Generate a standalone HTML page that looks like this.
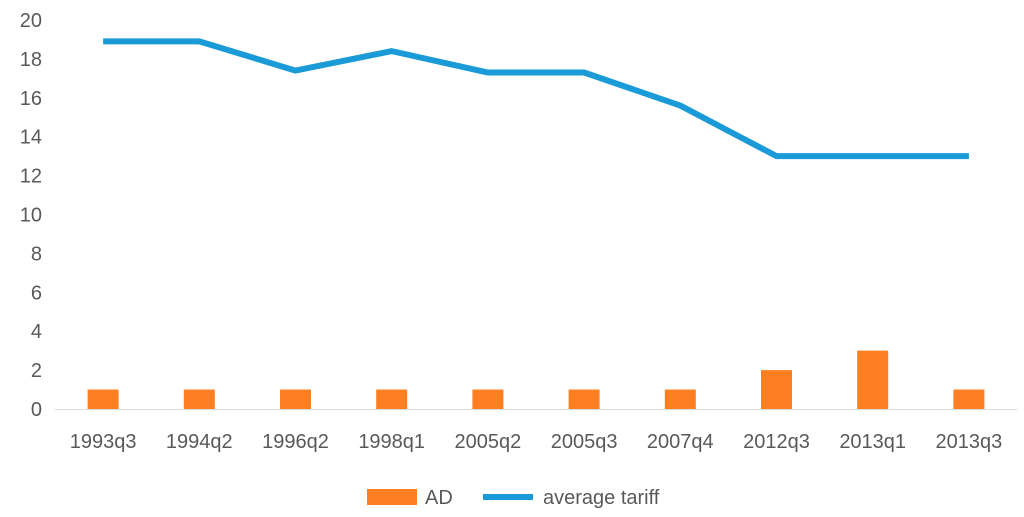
<!DOCTYPE html>
<html>
<head>
<meta charset="utf-8">
<style>
  html,body{margin:0;padding:0;background:#fff;}
  svg{display:block;font-family:"Liberation Sans",sans-serif;}
  text{fill:#595959;font-size:20px;}
</style>
</head>
<body>
<svg id="chart" width="1024" height="517">
  <g id="yticks"></g>
  <g id="xticks"></g>
  <line x1="55" y1="409.5" x2="1017" y2="409.5" stroke="#d9d9d9" stroke-width="1"/>
  <g id="bars"></g>
  <g id="lines"></g>
  <g>
    <rect x="367" y="489" width="50" height="16" fill="#fd7f22"/>
    <text x="425" y="504">AD</text>
    <line x1="483" y1="497" x2="533" y2="497" stroke="#1a9bd7" stroke-width="6"/>
    <text x="543" y="504">average tariff</text>
  </g>
</svg>
<script>
const categories = ["1993q3","1994q2","1996q2","1998q1","2005q2","2005q3","2007q4","2012q3","2013q1","2013q3"];
const adValues = [1,1,1,1,1,1,1,2,3,1];
const tariffValues = [18.9,18.9,17.4,18.4,17.3,17.3,15.6,13,13,13];
const yTicks = [0,2,4,6,8,10,12,14,16,18,20];

const NS = "http://www.w3.org/2000/svg";
const left = 55, right = 1017, y0 = 409, yTop = 20, yMax = 20;
const step = (right - left) / categories.length;
function xScale(i){ return left + step * (i + 0.5); }
function yScale(v){ return y0 - (y0 - yTop) * v / yMax; }

const yg = document.getElementById('yticks');
yTicks.forEach(t => {
  const el = document.createElementNS(NS,'text');
  el.setAttribute('x', 42);
  el.setAttribute('y', yScale(t) + 7);
  el.setAttribute('text-anchor','end');
  el.textContent = t;
  
  
  yg.appendChild(el);
});

const xg = document.getElementById('xticks');
categories.forEach((c,i) => {
  const el = document.createElementNS(NS,'text');
  el.setAttribute('x', xScale(i));
  el.setAttribute('y', 448);
  el.setAttribute('text-anchor','middle');
  el.textContent = c;
  
  
  xg.appendChild(el);
});

const bg = document.getElementById('bars');
adValues.forEach((v,i) => {
  const r = document.createElementNS(NS,'rect');
  const bw = 31;
  r.setAttribute('x', xScale(i) - bw/2);
  r.setAttribute('y', yScale(v));
  r.setAttribute('width', bw);
  r.setAttribute('height', y0 - yScale(v));
  r.setAttribute('fill', '#fd7f22');
  
  
  bg.appendChild(r);
});

const lg = document.getElementById('lines');
const pl = document.createElementNS(NS,'polyline');
pl.setAttribute('points', tariffValues.map((v,i) => xScale(i) + ',' + yScale(v)).join(' '));
pl.setAttribute('fill','none');
pl.setAttribute('stroke','#1a9bd7');
pl.setAttribute('stroke-width','6');
pl.setAttribute('stroke-linejoin','round');


lg.appendChild(pl);
</script>
</body>
</html>
